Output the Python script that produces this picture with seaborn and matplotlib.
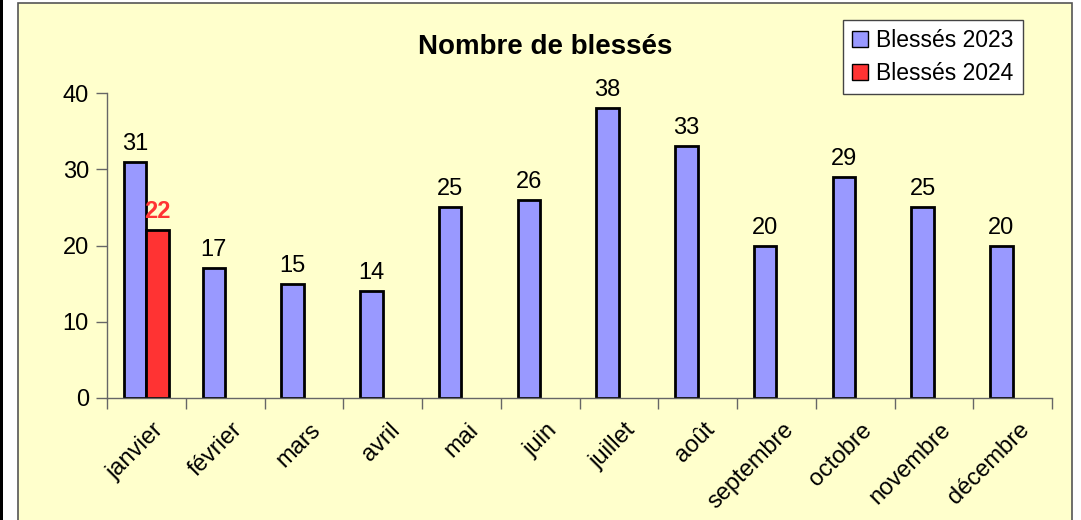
import matplotlib
matplotlib.use("Agg")
import matplotlib.pyplot as plt
import matplotlib.transforms as mtransforms
import seaborn as sns
import pandas as pd
from matplotlib.patches import Rectangle

# data
mois = ["janvier", "février", "mars", "avril", "mai", "juin", "juillet",
        "août", "septembre", "octobre", "novembre", "décembre"]
blesses_2023 = [31, 17, 15, 14, 25, 26, 38, 33, 20, 29, 25, 20]
mois_2024 = ["janvier"]
blesses_2024 = [22]

serie_2023 = "Blessés 2023"
serie_2024 = "Blessés 2024"

df = pd.concat([
    pd.DataFrame({"mois": mois, "valeur": blesses_2023, "serie": serie_2023}),
    pd.DataFrame({"mois": mois_2024, "valeur": blesses_2024, "serie": serie_2024}),
], ignore_index=True)

sns.set_style("white")
plt.rcParams["font.family"] = ["Liberation Sans", "DejaVu Sans"]
plt.rcParams["text.color"] = "black"
plt.rcParams["xtick.color"] = "black"
plt.rcParams["ytick.color"] = "black"

W, H = 1081, 520
fig = plt.figure(figsize=(W / 100, H / 100), dpi=100)
fig.patch.set_facecolor("white")

# page edge + yellow chart area (behind the axes)
fig.patches.append(Rectangle((0, 0), 2.5, H, transform=None, facecolor="black",
                             edgecolor="none", zorder=-2))
fig.patches.append(Rectangle((17.5, -5), 1072 - 17.5, H + 5 - 3, transform=None,
                             facecolor="#FFFFCC", edgecolor="#555555", linewidth=1.2, zorder=-2))

ax = fig.add_axes([107 / W, 1 - 398 / H, (1052 - 107) / W, (398 - 93) / H])
ax.set_facecolor("none")

sns.barplot(data=df, x="mois", y="valeur", hue="serie", order=mois,
            hue_order=[serie_2023, serie_2024],
            palette={serie_2023: "#9999FF", serie_2024: "#FF3333"},
            width=0.57, edgecolor="black", linewidth=2, saturation=1,
            errorbar=None, ax=ax)

for cont, col, wt in zip(ax.containers, ["black", "#FF3333"], ["normal", "bold"]):
    ax.bar_label(cont, fmt="%d", padding=5, fontsize=17, color=col, fontweight=wt)

ax.set_xlim(-0.5, 11.5)
ax.set_ylim(0, 40)
ax.set_yticks([0, 10, 20, 30, 40])
ax.set_xlabel("")
ax.set_ylabel("")

for s in ["top", "right"]:
    ax.spines[s].set_visible(False)
for s in ["left", "bottom"]:
    ax.spines[s].set_color("#666666")
    ax.spines[s].set_linewidth(1)

ax.tick_params(axis="y", length=8, width=1, color="#666666", labelsize=17, pad=5, direction="out", left=True)
ax.set_xticks(range(len(mois)))
ax.set_xticklabels(mois, rotation=45, ha="right", va="top", rotation_mode="anchor", fontsize=17)
ax.tick_params(axis="x", which="major", length=0, pad=15)
ax.set_xticks([i - 0.5 for i in range(len(mois) + 1)], minor=True)
ax.tick_params(axis="x", which="minor", length=8, width=1, color="#666666", direction="out", bottom=True)
shift = mtransforms.ScaledTranslation(6 / 100, 0, fig.dpi_scale_trans)
for lbl in ax.get_xticklabels():
    lbl.set_transform(lbl.get_transform() + shift)

fig.text(545 / W, 1 - 47 / H, "Nombre de blessés", ha="center", va="center",
         fontsize=20, fontweight="bold")

leg = ax.legend(loc="upper right", bbox_to_anchor=(1023 / W, 1 - 20 / H),
                bbox_transform=fig.transFigure, fontsize=16.5, frameon=True,
                fancybox=False, handlelength=0.7, handleheight=0.7,
                handletextpad=0.35, borderaxespad=0, labelspacing=0.42,
                borderpad=0.4)
leg.get_frame().set_edgecolor("#444444")
leg.get_frame().set_facecolor("white")
leg.get_frame().set_alpha(1)
for h in leg.legend_handles:
    h.set_linewidth(1)

fig.savefig("out.png", dpi=100)
